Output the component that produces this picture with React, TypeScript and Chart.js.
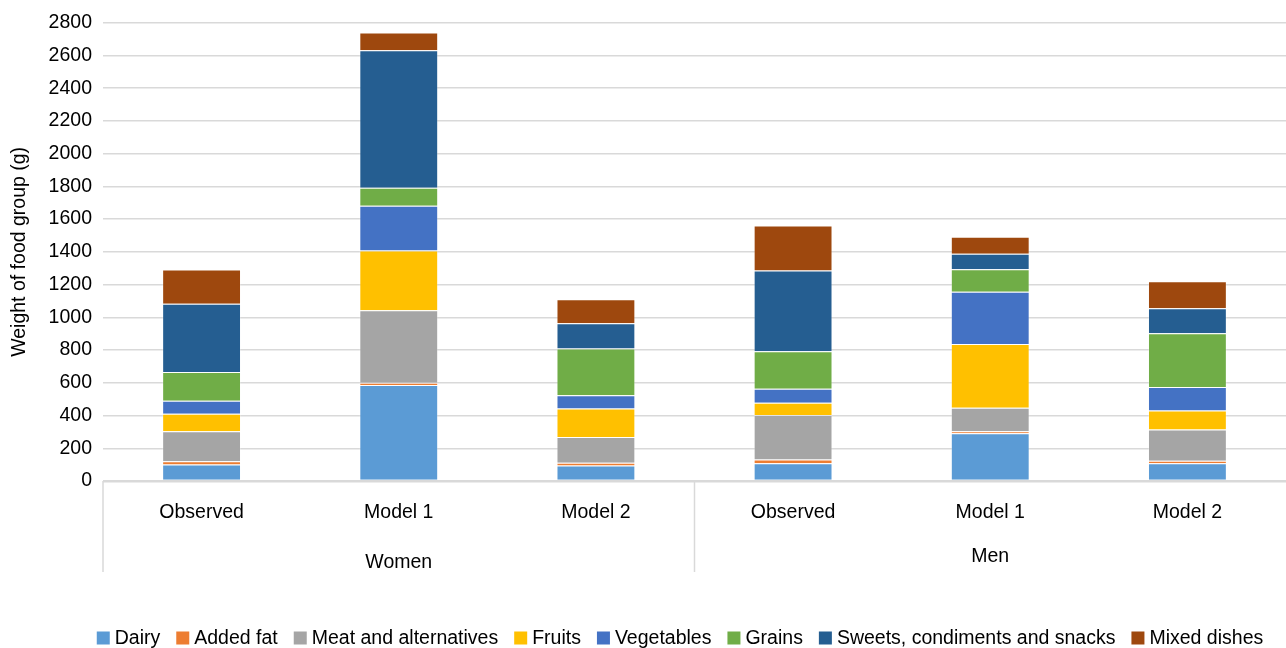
import { useEffect, useRef } from "react";
import { Chart, registerables } from "chart.js";

Chart.register(...registerables);

const categories = ["Observed", "Model 1", "Model 2", "Observed", "Model 1", "Model 2"];
const groups = ["Women", "Men"];
const seriesNames = [
  "Dairy",
  "Added fat",
  "Meat and alternatives",
  "Fruits",
  "Vegetables",
  "Grains",
  "Sweets, condiments and snacks",
  "Mixed dishes",
];
const seriesColors = ["#5B9BD5", "#ED7D31", "#A5A5A5", "#FFC000", "#4472C4", "#70AD47", "#255E91", "#9E480E"];

const dairy = [101, 587, 95, 108, 292, 109];
const addedFat = [19, 13, 16, 24, 12, 14];
const meat = [184, 443, 158, 271, 144, 191];
const fruits = [107, 365, 174, 75, 389, 117];
const vegetables = [79, 273, 81, 85, 319, 144];
const grains = [176, 111, 286, 229, 138, 328];
const sweets = [417, 840, 154, 494, 95, 152];
const mixed = [209, 108, 146, 275, 104, 166];

const yMax = 2800;
const yStep = 200;
const yTitle = "Weight of food group (g)";

const FONT = "'Liberation Sans', Arial, Helvetica, sans-serif";
const FONT_SIZE = 19.5;

const groupPlugin = {
  id: "groupLabels",
  afterDraw(chart: any) {
    const x = chart.scales.x;
    const ctx = chart.ctx;
    const bottom = chart.chartArea.bottom;
    const half = (x.getPixelForValue(1) - x.getPixelForValue(0)) / 2;
    const b0 = x.getPixelForValue(0) - half;
    const b1 = x.getPixelForValue(3) - half;
    const b2 = x.getPixelForValue(5) + half;
    ctx.save();
    ctx.strokeStyle = "#d9d9d9";
    ctx.lineWidth = 1.5;
    [b0, b1].forEach((bx) => {
      ctx.beginPath();
      ctx.moveTo(bx, bottom);
      ctx.lineTo(bx, 572);
      ctx.stroke();
    });
    ctx.fillStyle = "#000";
    ctx.font = `${FONT_SIZE}px ${FONT}`;
    ctx.textAlign = "center";
    ctx.textBaseline = "middle";
    ctx.fillText(groups[0], (b0 + b1) / 2, 563);
    ctx.fillText(groups[1], (b1 + b2) / 2, 557);
    ctx.restore();
  },
};

const legendPlugin = {
  id: "customLegend",
  afterDraw(chart: any) {
    const ctx = chart.ctx;
    ctx.save();
    ctx.font = `${FONT_SIZE}px ${FONT}`;
    const box = 13;
    const textGap = 5;
    const gap = 16;
    const widths = seriesNames.map((n) => box + textGap + ctx.measureText(n).width);
    const total = widths.reduce((a, b) => a + b, 0) + gap * (seriesNames.length - 1);
    let x = 680 - total / 2;
    const y = 638;
    ctx.textBaseline = "middle";
    ctx.textAlign = "left";
    seriesNames.forEach((name, i) => {
      ctx.fillStyle = seriesColors[i];
      ctx.fillRect(x, y - box / 2, box, box);
      ctx.fillStyle = "#000";
      ctx.fillText(name, x + box + textGap, y + 1);
      x += widths[i] + gap;
    });
    ctx.restore();
  },
};

export default function App() {
  const canvasRef = useRef<HTMLCanvasElement | null>(null);

  useEffect(() => {
    document.body.style.margin = "0";
    const canvas = canvasRef.current;
    if (!canvas) return;
    const seriesData = [dairy, addedFat, meat, fruits, vegetables, grains, sweets, mixed];
    const chart = new Chart(canvas, {
      type: "bar",
      data: {
        labels: categories,
        datasets: seriesNames.map((name, i) => ({
          label: name,
          data: seriesData[i],
          backgroundColor: seriesColors[i],
          borderColor: "rgba(255,255,255,0.25)",
          borderWidth: 1,
          borderSkipped: "start",
          barPercentage: 0.4,
          categoryPercentage: 1,
        })),
      },
      options: {
        responsive: false,
        animation: false,
        layout: { padding: { top: 20, right: 0, bottom: 0, left: 0 } },
        plugins: {
          legend: { display: false },
          tooltip: { enabled: false },
        },
        scales: {
          x: {
            stacked: true,
            grid: { display: false, drawTicks: false },
            border: { display: false },
            ticks: {
              color: "#000",
              padding: 20,
              font: { family: FONT, size: FONT_SIZE },
              maxRotation: 0,
            },
            afterFit(scale: any) {
              scale.height = 167;
            },
          },
          y: {
            stacked: true,
            min: 0,
            max: yMax,
            ticks: {
              stepSize: yStep,
              color: "#000",
              padding: 11,
              font: { family: FONT, size: FONT_SIZE },
              callback: (v: any) => String(v),
            },
            grid: {
              color: "#d9d9d9",
              lineWidth: (ctx: any) => (ctx.tick && ctx.tick.value === 0 ? 2.5 : 1.5),
              drawTicks: false,
            },
            border: { display: false },
            title: {
              display: true,
              text: yTitle,
              color: "#000",
              font: { family: FONT, size: FONT_SIZE },
              padding: { top: 8, bottom: 0 },
            },
            afterFit(scale: any) {
              scale.width = 103;
            },
          },
        },
      },
      plugins: [groupPlugin, legendPlugin],
    });
    return () => chart.destroy();
  }, []);

  return (
    <div style={{ width: 1286, height: 648, background: "#fff" }}>
      <canvas ref={canvasRef} width={1286} height={648} style={{ display: "block" }} />
    </div>
  );
}
